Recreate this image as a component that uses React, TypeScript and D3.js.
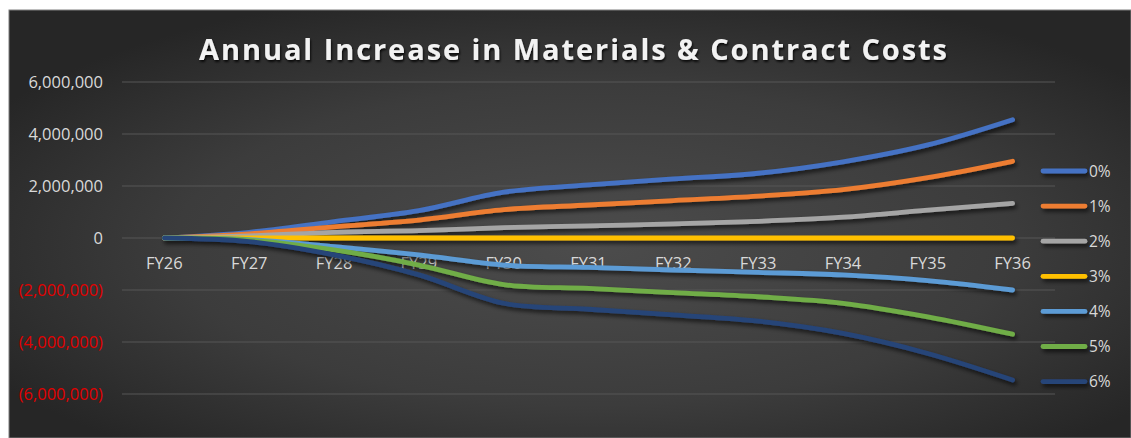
import React from "react";
import * as d3 from "d3";

const categories = ["FY26", "FY27", "FY28", "FY29", "FY30", "FY31", "FY32", "FY33", "FY34", "FY35", "FY36"];
const seriesNames = ["0%", "1%", "2%", "3%", "4%", "5%", "6%"];
const s0 = [0, 220000, 630000, 1050000, 1760000, 2040000, 2270000, 2490000, 2930000, 3580000, 4550000];
const s1 = [0, 160000, 430000, 690000, 1090000, 1270000, 1440000, 1610000, 1860000, 2320000, 2950000];
const s2 = [0, 80000, 220000, 280000, 400000, 470000, 540000, 640000, 800000, 1070000, 1330000];
const s3 = [0, 0, 0, 0, 0, 0, 0, 0, 0, 0, 0];
const s4 = [0, -60000, -330000, -650000, -1040000, -1130000, -1230000, -1320000, -1420000, -1640000, -2000000];
const s5 = [0, -80000, -460000, -1040000, -1790000, -1940000, -2100000, -2260000, -2510000, -3030000, -3700000];
const s6 = [0, -140000, -650000, -1420000, -2510000, -2740000, -2960000, -3200000, -3670000, -4440000, -5460000];
const seriesValues = [s0, s1, s2, s3, s4, s5, s6];
const colors = ["#4472C4", "#ED7D31", "#A5A5A5", "#FFC000", "#5B9BD5", "#70AD47", "#264478"];
const yTicks = [6000000, 4000000, 2000000, 0, -2000000, -4000000, -6000000];
const title = "Annual Increase in Materials & Contract Costs";

const W = 1131;
const H = 438;
const FONT = "'Open Sans', 'DejaVu Sans', sans-serif";

export default function App() {
  const x = d3.scalePoint<string>().domain(categories).range([122, 1055]).padding(0.5);
  const y = d3.scaleLinear().domain([-6000000, 6000000]).range([394, 82]);
  const line = d3
    .line<number>()
    .x((_, i) => x(categories[i]) as number)
    .y((d) => y(d))
    .curve(d3.curveCatmullRom.alpha(0.5));
  const fmt = d3.format(",");
  const fmtTick = (v: number) => (v < 0 ? `(${fmt(-v)})` : fmt(v));

  return (
    <svg
      width={W}
      height={H}
      style={{ position: "absolute", left: 0, top: 0, background: "#ffffff" }}
    >
      <defs>
        <radialGradient id="bg" cx="0.52" cy="0.55" r="0.62">
          <stop offset="0%" stopColor="#4c4c4c" />
          <stop offset="60%" stopColor="#3c3c3c" />
          <stop offset="100%" stopColor="#262626" />
        </radialGradient>
        <filter id="shadow" filterUnits="userSpaceOnUse" x={0} y={0} width={W} height={H}>
          <feDropShadow dx="2" dy="3" stdDeviation="2" floodColor="#000" floodOpacity="0.65" />
        </filter>
        <filter id="tshadow" x="-5%" y="-30%" width="110%" height="160%">
          <feDropShadow dx="1" dy="2" stdDeviation="1.2" floodColor="#000" floodOpacity="0.8" />
        </filter>
      </defs>
      <rect x={9} y={10} width={W - 9} height={H - 10} fill="url(#bg)" stroke="#7f7f7f" strokeWidth={1} />

      {/* Title */}
      <text
        x={199}
        y={60}
        fontFamily={FONT}
        fontWeight={700}
        fontSize={29}
        fill="#f2f2f2"
        textLength={748}
        lengthAdjust="spacing"
        filter="url(#tshadow)"
      >
        {title}
      </text>

      {/* Gridlines */}
      {yTicks.map((t) => (
        <line key={t} x1={122} x2={1055} y1={y(t)} y2={y(t)} stroke="#575757" strokeWidth={1} />
      ))}

      {/* Y labels */}
      {yTicks.map((t) => (
        <text
          key={"l" + t}
          x={103}
          y={y(t)}
          dy="0.36em"
          textAnchor="end"
          fontFamily={FONT}
          fontSize={16.5}
          fill={t < 0 ? "#e00000" : "#d9d9d9"}
        >
          {fmtTick(t)}
        </text>
      ))}

      {/* X labels */}
      {categories.map((c) => (
        <text
          key={c}
          x={x(c)}
          y={269}
          textAnchor="middle"
          fontFamily={FONT}
          fontSize={16.5}
          fill="#d9d9d9"
        >
          {c}
        </text>
      ))}

      {/* Lines */}
      <g filter="url(#shadow)">
        {seriesValues.map((vals, i) => (
          <path
            key={seriesNames[i]}
            d={line(vals) || ""}
            fill="none"
            stroke={colors[i]}
            strokeWidth={4.8}
            strokeLinecap="round"
            strokeLinejoin="round"
          />
        ))}
      </g>

      {/* Legend */}
      <g filter="url(#shadow)">
        {seriesNames.map((n, i) => {
          const ly = 171 + i * 35.1;
          return (
            <line
              key={"lg" + n}
              x1={1043}
              x2={1085}
              y1={ly}
              y2={ly}
              stroke={colors[i]}
              strokeWidth={4.8}
              strokeLinecap="round"
            />
          );
        })}
      </g>
      {seriesNames.map((n, i) => {
        const ly = 171 + i * 35.1;
        return (
          <text key={"lt" + n} x={1089} y={ly} dy="0.36em" fontFamily={FONT} fontSize={15.5} fill="#d9d9d9">
            {n}
          </text>
        );
      })}
    </svg>
  );
}
